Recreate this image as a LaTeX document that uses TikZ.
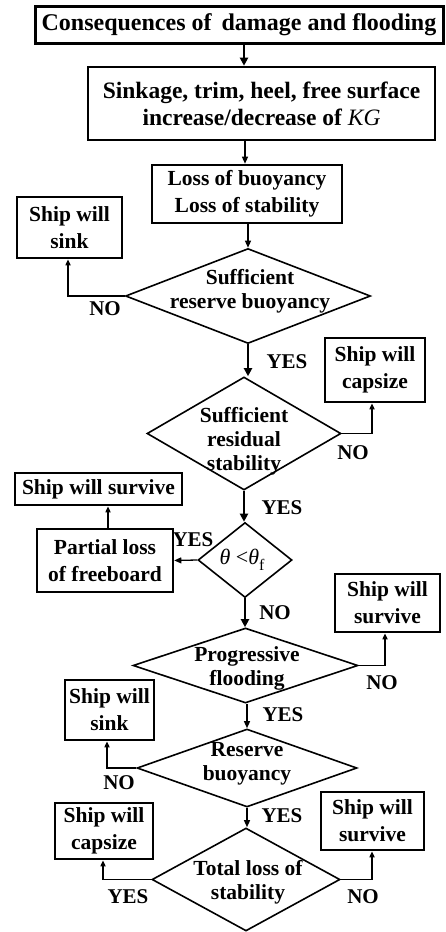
\documentclass[tikz,border=0pt]{standalone}
\usepackage{fontspec}
\setmainfont{Liberation Serif}
\usetikzlibrary{shapes.geometric,arrows.meta}
\newcommand\bfsz{\fontsize{21.5}{27}\selectfont\bfseries}
\newcommand\dsz{\fontsize{21.5}{24}\selectfont\bfseries}
\begin{document}
\begin{tikzpicture}[x=1pt,y=-1pt,
  box/.style={draw, line width=2.6pt, inner sep=0pt, align=center, font=\bfsz},
  dia/.style={draw, diamond, line width=1.6pt, inner sep=0pt},
  dtxt/.style={align=center, font=\dsz, inner sep=0pt},
  lbl/.style={font=\fontsize{21}{24}\selectfont\bfseries, inner sep=0pt},
  thn/.style={line width=1.3pt, -{Triangle[length=7pt,width=6pt]}},
  thk/.style={line width=2.6pt, -{Triangle[length=8pt,width=8pt]}},
  conn/.style={line width=1.6pt, -{Triangle[length=6pt,width=5pt]}}]
\useasboundingbox (0,0) rectangle (445,932);
% boxes
\node[box, line width=3pt, minimum width=408, minimum height=37, font=\fontsize{24}{28}\selectfont\bfseries] (box1) at (239,24.5) {Consequences of\, damage and flooding};
\node[box, minimum width=347, minimum height=73, font=\fontsize{23.5}{27}\selectfont\bfseries] (box2) at (261.5,103.5) {Sinkage, trim, heel, free surface\\increase/decrease of {\mdseries\itshape KG}};
\node[box, minimum width=190, minimum height=58] (box3) at (247,194) {Loss of buoyancy\\Loss of stability};
\node[box, minimum width=105, minimum height=61] (sink1) at (69.5,227.5) {Ship will\\sink};
\node[box, minimum width=100, minimum height=64] (cap1) at (375,370) {Ship will\\capsize};
\node[box, minimum width=167, minimum height=32] (surv1) at (98.5,489) {Ship will survive};
\node[box, minimum width=136, minimum height=63] (partial) at (105,560.5) {Partial loss\\of freeboard};
\node[box, minimum width=105, minimum height=58] (surv2) at (387.5,603) {Ship will\\survive};
\node[box, minimum width=89, minimum height=60] (sink2) at (109.5,710) {Ship will\\sink};
\node[box, minimum width=98, minimum height=56] (cap2) at (104,831) {Ship will\\capsize};
\node[box, minimum width=103, minimum height=58] (surv3) at (372.5,821) {Ship will\\survive};
% diamonds
\node[dia, minimum width=245, minimum height=95] (d1) at (248,296) {};
\node[dtxt] at (250,291) {Sufficient\\reserve buoyancy};
\node[dia, minimum width=194, minimum height=113] (d2) at (244,433.5) {};
\node[dtxt] at (244,441) {Sufficient\\residual\\stability};
\node[dia, minimum width=94, minimum height=75] (th) at (245,560) {};
\node[inner sep=0pt, font=\fontsize{22}{24}\selectfont] at (242,560) {\textit{θ} <\textit{θ}\raisebox{-0.25em}{\fontsize{16}{18}\selectfont f}};
\node[dia, minimum width=225, minimum height=75] (d3) at (245.5,665.5) {};
\node[dtxt] at (247,668) {Progressive\\flooding};
\node[dia, minimum width=220, minimum height=78] (d4) at (247,768) {};
\node[dtxt] at (247,764) {Reserve\\buoyancy};
\node[dia, minimum width=188, minimum height=103] (d5) at (246,879.5) {};
\node[dtxt] at (248,882) {Total loss of\\stability};
% connectors
\draw[thk] (box1.south -| 244,0) -- (box2.north -| 244,0);
\draw[thn] (box2.south -| 245,0) -- (box3.north -| 245,0);
\draw[thn] (box3.south -| d1.north) -- (d1.north);
\draw[conn] (d1.west) -| (sink1.south -| 68,0);
\draw[thk] (d1.south) -- (d2.north -| d1.south);
\draw[conn] (d2.east) -| (cap1.south -| 372,0);
\draw[thk] (d2.south) -- (th.north -| d2.south);
\draw[thn] (th.west) -- (partial.east);
\draw[conn] (partial.north -| 108,0) -- (surv1.south -| 108,0);
\draw[thk] (th.south) -- (d3.north -| th.south);
\draw[conn] (d3.east) -| (surv2.south -| 385,0);
\draw[thn] (d3.south -| 247,0) -- (d4.north -| 247,0);
\draw[conn] (d4.west) -| (sink2.south -| 107,0);
\draw[thn] (d4.south -| 247,0) -- (d5.north -| 247,0);
\draw[conn] (d5.west) -| (cap2.south -| 103,0);
\draw[conn] (d5.east) -| (surv3.south -| 372,0);
% labels
\node[lbl] at (105,309) {NO};
\node[lbl] at (287,362) {YES};
\node[lbl] at (353,453) {NO};
\node[lbl] at (282,508) {YES};
\node[lbl] at (193,540) {YES};
\node[lbl] at (275,613) {NO};
\node[lbl] at (382,683) {NO};
\node[lbl] at (283,715) {YES};
\node[lbl] at (119,783) {NO};
\node[lbl] at (282,816) {YES};
\node[lbl] at (128,897) {YES};
\node[lbl] at (363,897) {NO};
\end{tikzpicture}
\end{document}
